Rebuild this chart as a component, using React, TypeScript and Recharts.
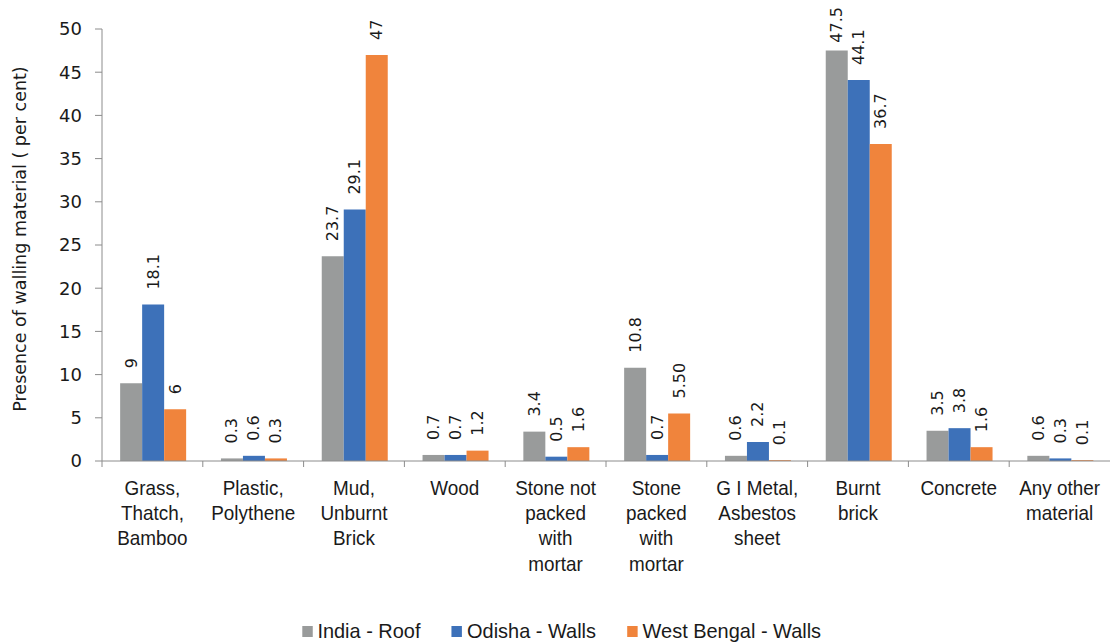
import React from 'react';
import { BarChart, Bar, XAxis, YAxis, Legend, LabelList } from 'recharts';

const categories = [
  'Grass,\nThatch,\nBamboo',
  'Plastic,\nPolythene',
  'Mud,\nUnburnt\nBrick',
  'Wood',
  'Stone not\npacked\nwith\nmortar',
  'Stone\npacked\nwith\nmortar',
  'G I Metal,\nAsbestos\nsheet',
  'Burnt\nbrick',
  'Concrete',
  'Any other\nmaterial',
];

const indiaRoof = [9, 0.3, 23.7, 0.7, 3.4, 10.8, 0.6, 47.5, 3.5, 0.6];
const odishaWalls = [18.1, 0.6, 29.1, 0.7, 0.5, 0.7, 2.2, 44.1, 3.8, 0.3];
const westBengalWalls = [6, 0.3, 47, 1.2, 1.6, 5.5, 0.1, 36.7, 1.6, 0.1];

const indiaLabels = ['9', '0.3', '23.7', '0.7', '3.4', '10.8', '0.6', '47.5', '3.5', '0.6'];
const odishaLabels = ['18.1', '0.6', '29.1', '0.7', '0.5', '0.7', '2.2', '44.1', '3.8', '0.3'];
const wbLabels = ['6', '0.3', '47', '1.2', '1.6', '5.50', '0.1', '36.7', '1.6', '0.1'];

const yTicks = [0, 5, 10, 15, 20, 25, 30, 35, 40, 45, 50];

const SERIES = [
  { key: 'india', name: 'India - Roof', color: '#999b9b', labels: indiaLabels },
  { key: 'odisha', name: 'Odisha - Walls', color: '#3d71b9', labels: odishaLabels },
  { key: 'wb', name: 'West Bengal - Walls', color: '#f0843c', labels: wbLabels },
];

const data = categories.map((name, i) => ({
  name,
  india: indiaRoof[i],
  odisha: odishaWalls[i],
  wb: westBengalWalls[i],
}));

const W = 1110;
const H = 642;
const Y_AXIS_W = 102;
const BAND = (W - Y_AXIS_W) / categories.length;
const AXIS_COLOR = '#8c8c8c';
const TEXT = '#1a1a1a';
const SANS = "'Liberation Sans', Arial, sans-serif";
const DEJAVU = "'DejaVu Sans', Verdana, sans-serif";
const NARROW_X = 0.9;
const LABEL_SIZE = 16;

function CategoryTick(props: any) {
  const { x, y, payload } = props;
  const lines = String(payload.value).split('\n');
  const left = x - BAND / 2;
  return (
    <g>
      <line x1={left} x2={left} y1={y - 8} y2={y - 2} stroke={AXIS_COLOR} />
      <g transform={`translate(${x},0) scale(${NARROW_X},1) translate(${-x},0)`}>
        <text x={x} y={y + 26} textAnchor="middle" fill={TEXT} fontFamily={SANS} fontSize={21}>
          {lines.map((l, i) => (
            <tspan key={i} x={x} dy={i === 0 ? 0 : 25.2}>
              {l}
            </tspan>
          ))}
        </text>
      </g>
    </g>
  );
}

function YTitle(props: any) {
  const { viewBox } = props;
  const cx = 20;
  const cy = viewBox.y + viewBox.height / 2 - 6;
  return (
    <text
      x={cx}
      y={cy}
      transform={`rotate(-90, ${cx}, ${cy})`}
      textAnchor="middle"
      dominantBaseline="central"
      fill={TEXT}
      fontFamily={DEJAVU}
      fontSize={17.5}
    >
      Presence of walling material ( per cent)
    </text>
  );
}

// rough text length so labels near the top get pushed down like Excel does
function textLen(s: string) {
  let w = 0;
  for (const c of s) w += c === '.' ? 0.318 : 0.636;
  return w * LABEL_SIZE;
}

function makeValueLabel(labels: string[]) {
  return (props: any) => {
    const { x, y, width, index } = props;
    const txt = labels[index];
    const cx = x + width / 2;
    const ty = Math.max(y - 15, 7 + textLen(txt));
    return (
      <text
        x={cx}
        y={ty}
        transform={`rotate(-90, ${cx}, ${ty})`}
        textAnchor="start"
        dominantBaseline="central"
        fill={TEXT}
        fontFamily={DEJAVU}
        fontSize={LABEL_SIZE}
      >
        {txt}
      </text>
    );
  };
}

function LegendContent() {
  return (
    <div
      style={{
        height: 30,
        paddingTop: 8,
        boxSizing: 'border-box',
        display: 'flex',
        justifyContent: 'center',
        alignItems: 'center',
        fontFamily: SANS,
        fontSize: 21,
        color: TEXT,
        paddingLeft: 14,
        transform: 'scaleX(0.95)',
      }}
    >
      {SERIES.map((s, i) => (
        <span
          key={s.key}
          style={{ display: 'flex', alignItems: 'center', marginRight: i < SERIES.length - 1 ? 33 : 0 }}
        >
          <span
            style={{ width: 11, height: 11, background: s.color, marginRight: 5, display: 'inline-block' }}
          />
          {s.name}
        </span>
      ))}
    </div>
  );
}

export default function App() {
  return (
    <div style={{ width: W, height: H, background: '#fff' }}>
      <style>{`body{margin:0}`}</style>
      <BarChart
        width={W}
        height={H}
        data={data}
        margin={{ top: 29, right: 0, bottom: 0, left: 0 }}
        barCategoryGap="18%"
        barGap={0}
      >
        <XAxis
          dataKey="name"
          interval={0}
          height={151}
          axisLine={{ stroke: AXIS_COLOR }}
          tickLine={false}
          tick={<CategoryTick />}
        />
        <YAxis
          width={Y_AXIS_W}
          domain={[0, 50]}
          ticks={yTicks}
          interval={0}
          axisLine={{ stroke: AXIS_COLOR }}
          tickLine={{ stroke: AXIS_COLOR }}
          tickSize={7}
          tickMargin={13}
          tick={{ fill: TEXT, fontSize: 18, fontFamily: DEJAVU }}
          label={<YTitle />}
        />
        <Legend verticalAlign="bottom" content={<LegendContent />} />
        {SERIES.map(s => (
          <Bar key={s.key} dataKey={s.key} name={s.name} fill={s.color} isAnimationActive={false}>
            <LabelList dataKey={s.key} content={makeValueLabel(s.labels)} />
          </Bar>
        ))}
      </BarChart>
    </div>
  );
}
